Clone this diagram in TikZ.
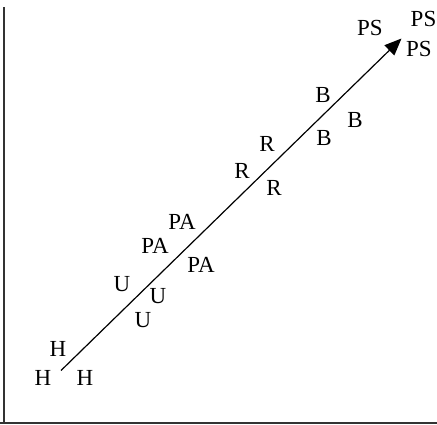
\documentclass[tikz,border=0pt]{standalone}
\usepackage{fontspec}
\setmainfont{Liberation Serif}
\usetikzlibrary{arrows.meta}
\begin{document}
\begin{tikzpicture}[x=1pt,y=-1pt,
  lbl/.style={inner sep=0pt,font=\fontsize{23}{25}\selectfont},
  frameline/.style={line width=2pt,draw=black!80}]
\useasboundingbox (0,0) rectangle (437,424);
\coordinate (fl1) at (4,7);
\coordinate (fl2) at (4,423);
\coordinate (fb1) at (0,423);
\coordinate (fb2) at (437,423);
\draw[frameline] (fl1) -- (fl2);
\draw[frameline] (fb1) -- (fb2);
\coordinate (start) at (61,370.5);
\coordinate (tip) at (401.5,38.5);
\draw[line width=1.2pt,-{Triangle[length=17pt,width=14pt]}] (start) -- (tip);
\node[lbl] (ps1) at (370,28) {PS};
\node[lbl,anchor=east] (ps2) at (436.5,19) {PS};
\node[lbl] (ps3) at (419,48.5) {PS};
\node[lbl] (b1) at (323,95) {B};
\node[lbl] (b2) at (355,120) {B};
\node[lbl] (b3) at (324,138) {B};
\node[lbl] (r1) at (267,144) {R};
\node[lbl] (r2) at (242,171) {R};
\node[lbl] (r3) at (274,188) {R};
\node[lbl] (pa1) at (182,222) {PA};
\node[lbl] (pa2) at (155,246) {PA};
\node[lbl] (pa3) at (201,265) {PA};
\node[lbl] (u1) at (122,284) {U};
\node[lbl] (u2) at (158,296) {U};
\node[lbl] (u3) at (143,320) {U};
\node[lbl] (h1) at (58,349) {H};
\node[lbl] (h2) at (43,378) {H};
\node[lbl] (h3) at (85,378) {H};
\end{tikzpicture}
\end{document}
